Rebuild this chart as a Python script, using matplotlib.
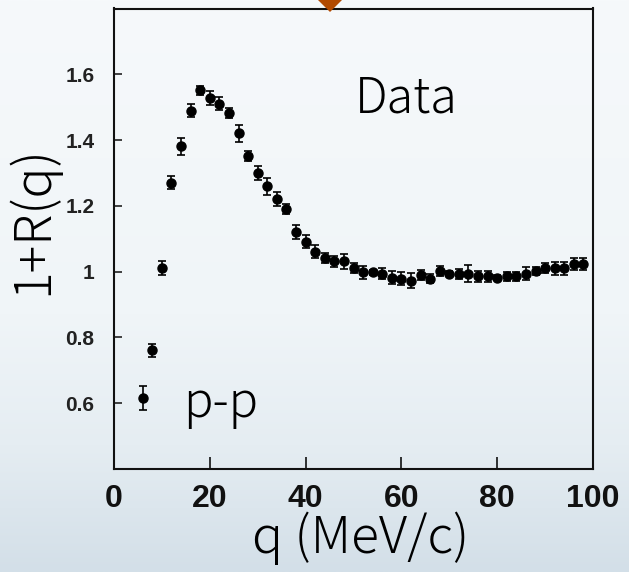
import numpy as np
import matplotlib
matplotlib.use('Agg')
import matplotlib.pyplot as plt
from matplotlib.colors import LinearSegmentedColormap
from matplotlib.patches import Polygon

# p-p correlation data
q = [6, 8, 10, 12, 14, 16, 18, 20, 22, 24, 26, 28, 30, 32, 34, 36, 38, 40,
     42, 44, 46, 48, 50, 52, 54, 56, 58, 60, 62, 64, 66, 68, 70, 72, 74, 76,
     78, 80, 82, 84, 86, 88, 90, 92, 94, 96, 98]
one_plus_r = [0.616, 0.761, 1.011, 1.27, 1.381, 1.489, 1.551, 1.529, 1.51,
              1.481, 1.42, 1.351, 1.30, 1.26, 1.221, 1.19, 1.12, 1.091, 1.061,
              1.041, 1.031, 1.031, 1.011, 0.998, 0.998, 0.994, 0.982, 0.978,
              0.973, 0.99, 0.978, 1.002, 0.994, 0.994, 0.994, 0.986, 0.986,
              0.982, 0.986, 0.986, 0.994, 1.002, 1.01, 1.01, 1.01, 1.022, 1.022]
err = [0.036, 0.02, 0.02, 0.02, 0.025, 0.02, 0.014, 0.021, 0.02, 0.015,
       0.026, 0.015, 0.02, 0.026, 0.021, 0.016, 0.021, 0.02, 0.02, 0.015,
       0.016, 0.022, 0.015, 0.02, 0.008, 0.016, 0.02, 0.02, 0.022, 0.014,
       0.014, 0.016, 0.008, 0.015, 0.025, 0.016, 0.016, 0.008, 0.014, 0.014,
       0.02, 0.013, 0.015, 0.02, 0.02, 0.018, 0.018]

xticks = [0, 20, 40, 60, 80, 100]
yticks = [0.6, 0.8, 1.0, 1.2, 1.4, 1.6]
ytick_labels = ['0.6', '0.8', '1', '1.2', '1.4', '1.6']

W, H = 629, 572
fig = plt.figure(figsize=(W / 100, H / 100), dpi=100)

# background gradient (slide style)
bg = fig.add_axes([0, 0, 1, 1], zorder=-10)
cmap = LinearSegmentedColormap.from_list(
    'bg', [(0, '#f6f9fb'), (0.55, '#f0f5f8'), (0.78, '#e5edf2'), (1, '#d3dfe8')])
grad = np.linspace(0, 1, 256).reshape(-1, 1)
bg.imshow(grad, aspect='auto', cmap=cmap, extent=[0, 1, 0, 1])
bg.axis('off')

left, right, top, bottom = 114, 593, 8.5, 469
ax = fig.add_axes([left / W, 1 - bottom / H, (right - left) / W, (bottom - top) / H])
ax.set_facecolor('none')

ax.errorbar(q, one_plus_r, yerr=err, fmt='o', color='black', ms=6.5,
            elinewidth=1.2, capsize=3, capthick=1.2, zorder=3)

ax.set_xlim(0, 100)
ax.set_ylim(0.4, 1.8)
ax.set_xticks(xticks)
ax.set_yticks(yticks)
ax.set_yticklabels(ytick_labels)

for s in ax.spines.values():
    s.set_linewidth(1.5)
    s.set_color('#111111')

ax.tick_params(axis='x', direction='in', length=9, width=1.2, pad=11,
               labelsize=23, colors='#111111')
ax.tick_params(axis='y', direction='in', length=6, width=1.2, pad=14,
               labelsize=15, colors='#222222')
for lab in ax.get_xticklabels() + ax.get_yticklabels():
    lab.set_fontfamily('Liberation Sans')
    lab.set_fontweight('bold')

# axis titles placed like on the slide
lab_font = ['Noto Sans CJK JP', 'DejaVu Sans']
fig.text(360.5 / W, 1 - 538 / H, 'q (MeV/c)', fontsize=37, family=lab_font,
         weight='light', ha='center', va='center')
fig.text(33 / W, 1 - 220 / H, '1+R(q)', fontsize=37, family=lab_font,
         weight='light', ha='center', va='center', rotation=90)

ax.text(50.3, 1.483, 'Data', fontsize=35, family=lab_font, weight='light',
        ha='left', va='baseline')
ax.text(14.4, 0.559, 'p-p', fontsize=35, family=lab_font, weight='light',
        ha='left', va='baseline')

# orange diamond peeking in at the top
dx, dy, r = 330, 0, 12
pts = [(dx - r, dy), (dx, dy + r), (dx + r, dy), (dx, dy - r)]
pts = [(px / W, 1 - py / H) for px, py in pts]
fig.patches.append(Polygon(pts, closed=True, transform=fig.transFigure,
                           facecolor='#b24a00', edgecolor='none', zorder=20))

fig.savefig('out.png', dpi=100)
